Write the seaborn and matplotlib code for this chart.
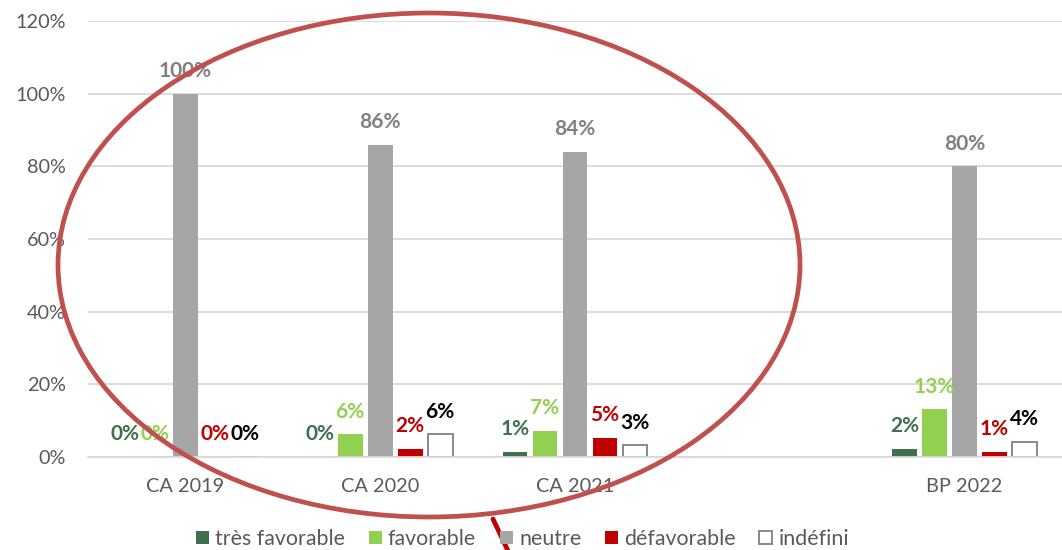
import pandas as pd
import numpy as np
import matplotlib.pyplot as plt
import seaborn as sns
from matplotlib.patches import Ellipse
from matplotlib.lines import Line2D

# ----------------------------
# Data
# ----------------------------
categories = ["CA 2019", "CA 2020", "CA 2021", "", "BP 2022"]
tres_favorable = [0.0, 0.0, 1.4, None, 2.3]
favorable = [0.0, 6.3, 7.2, None, 13.2]
neutre = [100.0, 86.0, 84.0, None, 80.0]
defavorable = [0.0, 2.3, 5.3, None, 1.4]
indefini = [0.0, 6.2, 3.3, None, 4.2]

series_names = ["très favorable", "favorable", "neutre", "défavorable", "indéfini"]
series_values = [tres_favorable, favorable, neutre, defavorable, indefini]

bar_colors = ["#3E7050", "#92D050", "#A6A6A6", "#C00000", "#FFFFFF"]
label_colors = ["#3E7050", "#92D050", "#808080", "#C00000", "#000000"]

rows = []
for name, vals in zip(series_names, series_values):
    for cat, v in zip(categories, vals):
        if v is not None:
            rows.append({"periode": cat, "avis": name, "pct": v})
df = pd.DataFrame(rows)

# ----------------------------
# Plot
# ----------------------------
sns.set_style("white")
plt.rcParams["font.family"] = ["Lato", "DejaVu Sans"]

fig = plt.figure(figsize=(10.62, 5.5), dpi=100)
ax = fig.add_axes([88 / 1062, 93 / 550, 974 / 1062, 436 / 550])

sns.barplot(data=df, x="periode", y="pct", hue="avis", order=categories,
            hue_order=series_names, palette=bar_colors, saturation=1,
            width=0.77, gap=0.17, linewidth=0, legend=False, ax=ax)

# indéfini bars: white with grey outline
for patch in ax.containers[4]:
    patch.set_edgecolor("#808080")
    patch.set_linewidth(1.3)

# value labels
for cont, col in zip(ax.containers, label_colors):
    ax.bar_label(cont, fmt=lambda v: f"{v:.0f}%", padding=9, color=col,
                 fontsize=15, fontweight="bold")

ax.set_ylim(0, 120)
ax.set_xlim(-0.5, 4.5)
ax.set_yticks(np.arange(0, 121, 20))
ax.set_yticklabels([f"{t}%" for t in range(0, 121, 20)])
ax.set_xlabel("")
ax.set_ylabel("")
ax.tick_params(axis="y", length=0, pad=16, labelsize=14.3, labelcolor="#595959")
ax.tick_params(axis="x", length=0, pad=15, labelsize=14.3, labelcolor="#595959")
ax.grid(axis="y", color="#D9D9D9", linewidth=1.3)
ax.set_axisbelow(True)
for s in ["top", "right", "left"]:
    ax.spines[s].set_visible(False)
ax.spines["bottom"].set_color("#D9D9D9")
ax.spines["bottom"].set_linewidth(1.3)

fig.legend(handles=ax.containers, labels=series_names, loc="center",
           bbox_to_anchor=(0.492, 0.02), ncol=5, frameon=False, fontsize=15.4,
           labelcolor="#595959", handlelength=0.6, handleheight=0.6,
           handletextpad=0.3, columnspacing=1.1)

# red annotation ellipse and stroke
ell = Ellipse((429 / 1062, 1 - 265 / 550), 742 / 1062, 504 / 550,
              transform=fig.transFigure, fill=False, edgecolor="#C0504D",
              linewidth=3.4, zorder=5)
fig.add_artist(ell)
stroke = Line2D([493 / 1062, 509 / 1062], [1 - 519 / 550, 1 - 553 / 550],
                transform=fig.transFigure, color="#C00000", linewidth=3.4,
                zorder=5)
fig.add_artist(stroke)

fig.savefig("out.png", dpi=100)
plt.close()
